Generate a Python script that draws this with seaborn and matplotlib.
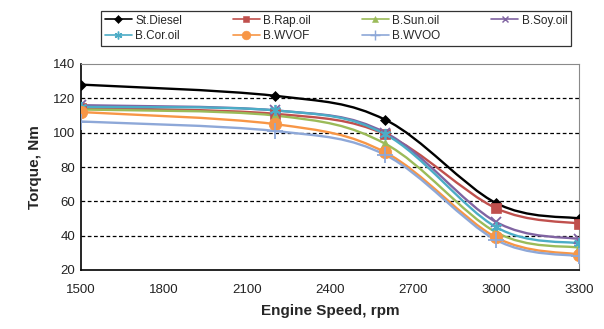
import matplotlib
matplotlib.use("Agg")
import matplotlib.pyplot as plt
from matplotlib.path import Path
from matplotlib.patches import PathPatch
from matplotlib.lines import Line2D
import seaborn as sns
import numpy as np

# ---- data ----
rpm = [1500, 2200, 2600, 3000, 3300]
series_names = ["St.Diesel", "B.Rap.oil", "B.Sun.oil", "B.Soy.oil",
                "B.Cor.oil", "B.WVOF", "B.WVOO"]
st_diesel = [128, 121.5, 107.5, 59, 50]
b_rap = [114.5, 111, 99, 56, 47]
b_sun = [113.5, 110, 93.5, 42, 33]
b_soy = [116, 113, 100, 48, 38]
b_cor = [115, 113, 99, 45, 35.5]
b_wvof = [112, 105, 88.5, 39, 29]
b_wvoo = [106.5, 101, 87, 37.5, 28]
x_ticks = [1500, 1800, 2100, 2400, 2700, 3000, 3300]
y_ticks = [20, 40, 60, 80, 100, 120, 140]

values = [st_diesel, b_rap, b_sun, b_soy, b_cor, b_wvof, b_wvoo]
colors = ["#000000", "#C0504D", "#9BBB59", "#8064A2", "#4BACC6", "#F79646", "#8EA8D8"]
markers = ["D", "s", "^", "x", (6, 2, 0), "o", "+"]
msizes = [5.5, 7, 7, 7, 8, 9, 11]

sns.set_style("white")
plt.rcParams["font.family"] = ["Liberation Sans", "DejaVu Sans"]

fig = plt.figure(figsize=(6.04, 3.29), dpi=100)
ax = fig.add_axes([81 / 604, 1 - 270 / 329, (579 - 81) / 604, (270 - 64) / 329])


def smooth_path(xs, ys):
    pts = np.column_stack([xs, ys]).astype(float)
    n = len(pts)
    verts = [pts[0]]
    codes = [Path.MOVETO]
    for i in range(n - 1):
        p_prev = pts[i - 1] if i > 0 else pts[i]
        p_next2 = pts[i + 2] if i + 2 < n else pts[i + 1]
        c1 = pts[i] + (pts[i + 1] - p_prev) / 6.0
        c2 = pts[i + 1] - (p_next2 - pts[i]) / 6.0
        verts += [c1, c2, pts[i + 1]]
        codes += [Path.CURVE4] * 3
    return Path(verts, codes)


handles = []
for name, vals, c, m, ms in zip(series_names, values, colors, markers, msizes):
    patch = PathPatch(smooth_path(rpm, vals), facecolor="none", edgecolor=c,
                      lw=1.7, zorder=3, transform=ax.transData)
    ax.add_patch(patch)
    mew = 1.3 if m in ("x", "+", (6, 2, 0)) else 0.5
    sns.lineplot(x=rpm, y=vals, ax=ax, marker=m, markersize=ms, color=c,
                 linestyle="none", markeredgecolor=c, markeredgewidth=mew,
                 legend=False, zorder=4)
    handles.append(Line2D([0], [0], color=c, lw=1.2, marker=m,
                          markersize=ms * 0.7, markeredgecolor=c,
                          markeredgewidth=mew * 0.8, label=name))

# row-major legend order for 4 columns x 2 rows
order = [0, 4, 1, 5, 2, 6, 3]
handles = [handles[i] for i in order]

ax.set_xlim(1500, 3300)
ax.set_ylim(20, 140)
ax.set_xticks(x_ticks)
ax.set_yticks(y_ticks)
ax.tick_params(axis="both", length=0, labelsize=9.5, colors="#222222")
ax.tick_params(axis="x", pad=10)
ax.tick_params(axis="y", pad=4)
for yv in [40, 60, 80, 100, 120]:
    ax.axhline(yv, color="black", lw=0.9, ls=(0, (3, 2)), zorder=1)

for s in ["left", "bottom"]:
    ax.spines[s].set_color("black")
    ax.spines[s].set_linewidth(1.2)
for s in ["top", "right"]:
    ax.spines[s].set_color("#8a8a8a")
    ax.spines[s].set_linewidth(0.8)

ax.set_xlabel("Engine Speed, rpm", fontsize=11, fontweight="bold", labelpad=6)
ax.set_ylabel("Torque, Nm", fontsize=11, fontweight="bold", labelpad=8)

leg = fig.legend(handles=handles, loc="upper left", ncol=4, mode="expand",
                 bbox_to_anchor=(101 / 604, 1 - 11 / 329, (571 - 101) / 604, 0.0),
                 fontsize=8.5, frameon=True, fancybox=False, handlelength=2.3,
                 handletextpad=0.3, borderpad=0.3, borderaxespad=0.0,
                 labelspacing=0.3, columnspacing=1.0)
leg.get_frame().set_edgecolor("black")
leg.get_frame().set_linewidth(0.9)

fig.savefig("out.png", dpi=100)
